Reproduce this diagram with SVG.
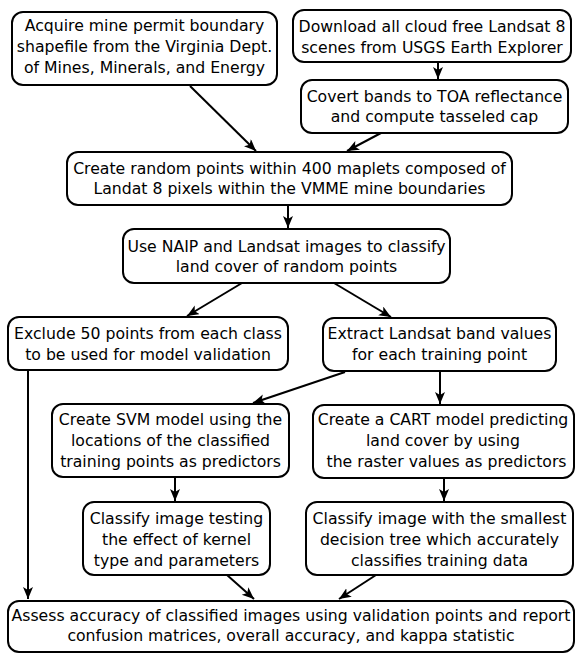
<svg xmlns="http://www.w3.org/2000/svg" width="576" height="653" viewBox="0 0 576 653">
<style>
.box{fill:#fff;stroke:#000;stroke-width:2}
.t{font-family:"DejaVu Sans","Liberation Sans",sans-serif;font-size:15.7px;fill:#000;text-anchor:middle}
.c{fill:none;stroke:#000;stroke-width:2}
</style>
<defs>
<marker id="ah" markerUnits="userSpaceOnUse" markerWidth="13" markerHeight="11" refX="12" refY="5" orient="auto" viewBox="0 0 13 11">
<path d="M0,0 L12,5 L0,10 L3,5 z" fill="#000"/>
</marker>
</defs>
<rect width="576" height="653" fill="#fff"/>
<g id="connectors">
<path class="c" d="M190,86 L256,151" marker-end="url(#ah)"/>
<path class="c" d="M438,62 L438,79" marker-end="url(#ah)"/>
<path class="c" d="M381,133 L347,151" marker-end="url(#ah)"/>
<path class="c" d="M288,205 L288,228" marker-end="url(#ah)"/>
<path class="c" d="M242,283 L187,316" marker-end="url(#ah)"/>
<path class="c" d="M334,283 L391,317" marker-end="url(#ah)"/>
<path class="c" d="M28,370 L28,599" marker-end="url(#ah)"/>
<path class="c" d="M345,372 L253,403" marker-end="url(#ah)"/>
<path class="c" d="M440,371 L440,404" marker-end="url(#ah)"/>
<path class="c" d="M175,477 L175,501" marker-end="url(#ah)"/>
<path class="c" d="M444,478 L444,501" marker-end="url(#ah)"/>
<path class="c" d="M227,575 L254,599" marker-end="url(#ah)"/>
<path class="c" d="M376,575 L339,599" marker-end="url(#ah)"/>
</g>
<g id="n1"><rect class="box" x="12" y="12" width="265" height="73" rx="11"/>
<text class="t" x="144.5" y="31">Acquire mine permit boundary</text>
<text class="t" x="144.5" y="52">shapefile from the Virginia Dept.</text>
<text class="t" x="144.5" y="73">of Mines, Minerals, and Energy</text></g>
<g id="n2"><rect class="box" x="293" y="10" width="278" height="52" rx="11"/>
<text class="t" x="432" y="32">Download all cloud free Landsat 8</text>
<text class="t" x="432" y="53">scenes from USGS Earth Explorer</text></g>
<g id="n3"><rect class="box" x="301" y="80" width="267" height="53" rx="11"/>
<text class="t" x="434.5" y="102">Covert bands to TOA reflectance</text>
<text class="t" x="434.5" y="122">and compute tasseled cap</text></g>
<g id="n4"><rect class="box" x="67" y="152" width="445" height="53" rx="11"/>
<text class="t" x="289.5" y="174">Create random points within 400 maplets composed of</text>
<text class="t" x="289.5" y="194">Landat 8 pixels within the VMME mine boundaries</text></g>
<g id="n5"><rect class="box" x="123" y="229" width="327" height="54" rx="11"/>
<text class="t" x="286.5" y="252">Use NAIP and Landsat images to classify</text>
<text class="t" x="286.5" y="272">land cover of random points</text></g>
<g id="n6"><rect class="box" x="8" y="317" width="280" height="53" rx="11"/>
<text class="t" x="148" y="339">Exclude 50 points from each class</text>
<text class="t" x="148" y="360">to be used for model validation</text></g>
<g id="n7"><rect class="box" x="323" y="318" width="233" height="53" rx="11"/>
<text class="t" x="439.5" y="339">Extract Landsat band values</text>
<text class="t" x="439.5" y="360">for each training point</text></g>
<g id="n8"><rect class="box" x="52" y="404" width="237" height="73" rx="11"/>
<text class="t" x="170.5" y="425">Create SVM model using the</text>
<text class="t" x="170.5" y="446">locations of the classified</text>
<text class="t" x="170.5" y="467">training points as predictors</text></g>
<g id="n9"><rect class="box" x="313" y="405" width="261" height="73" rx="11"/>
<text class="t" x="443" y="425">Create a CART model predicting</text>
<text class="t" x="443" y="446">land cover by using</text>
<text class="t" x="446.5" y="467">the raster values as predictors</text></g>
<g id="n10"><rect class="box" x="83" y="502" width="187" height="73" rx="11"/>
<text class="t" x="176.5" y="524">Classify image testing</text>
<text class="t" x="176.5" y="545">the effect of kernel</text>
<text class="t" x="176.5" y="566">type and parameters</text></g>
<g id="n11"><rect class="box" x="306" y="502" width="267" height="73" rx="11"/>
<text class="t" x="439.5" y="524">Classify image with the smallest</text>
<text class="t" x="439.5" y="545">decision tree which accurately</text>
<text class="t" x="439.5" y="566">classifies training data</text></g>
<g id="n12"><rect class="box" x="8" y="601" width="566" height="51" rx="11"/>
<text class="t" x="291" y="621">Assess accuracy of classified images using validation points and report</text>
<text class="t" x="291" y="641">confusion matrices, overall accuracy, and kappa statistic</text></g>
</svg>
